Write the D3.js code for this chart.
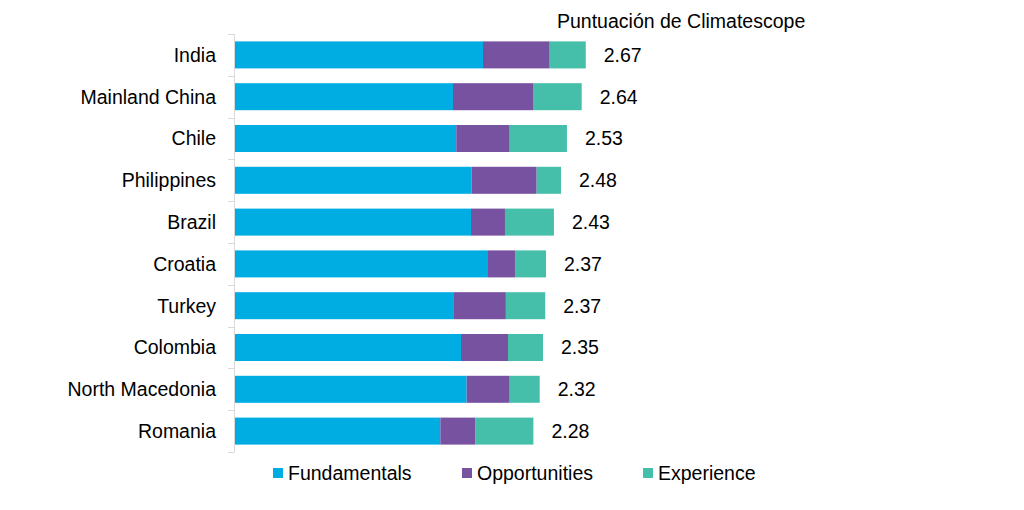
<!DOCTYPE html>
<html><head><meta charset="utf-8">
<script src="https://cdn.jsdelivr.net/npm/d3@7"></script>
<style>body{margin:0;background:#fff;} text{font-family:"Liberation Sans",Arial,sans-serif;fill:#000;}</style>
</head><body>
<svg id="c" width="1024" height="510"></svg>
<script>
const categories = ["India","Mainland China","Chile","Philippines","Brazil","Croatia","Turkey","Colombia","North Macedonia","Romania"];
const fundamentals = [1.892,1.664,1.689,1.806,1.801,1.930,1.666,1.725,1.768,1.568];
const opportunities = [0.507,0.608,0.406,0.494,0.258,0.205,0.400,0.357,0.327,0.264];
const experience = [0.274,0.370,0.435,0.185,0.372,0.236,0.299,0.266,0.228,0.443];
const totals = ["2.67","2.64","2.53","2.48","2.43","2.37","2.37","2.35","2.32","2.28"];
const seriesNames = ["Fundamentals","Opportunities","Experience"];
const colors = ["#00ADE3","#7752A1","#45BFAA"];
const title = "Puntuación de Climatescope";

const FS = "19.5px";
const svg = d3.select("#c");
const x = d3.scaleLinear().domain([0,1]).range([234, 234+131.6]);
const y = d3.scaleBand().domain(categories).range([34,452]).paddingInner(0.354).paddingOuter(0.177);

const stackData = categories.map((c,i)=>({cat:c, Fundamentals:fundamentals[i], Opportunities:opportunities[i], Experience:experience[i]}));
const stack = d3.stack().keys(seriesNames)(stackData);

stack.forEach((layer,k)=>{
  svg.append("g").selectAll("rect").data(layer).join("rect")
    .attr("x", d=>x(d[0]))
    .attr("width", d=>x(d[1])-x(d[0]))
    .attr("y", d=>y(d.data.cat))
    .attr("height", y.bandwidth())
    .attr("fill", colors[k]);
});

// axis line with boundary ticks
const ax = svg.append("g").attr("stroke","#d9d9d9").attr("stroke-width",1);
ax.append("line").attr("x1",234.5).attr("x2",234.5).attr("y1",34).attr("y2",452);
d3.range(categories.length+1).forEach(i=>{
  const yy = Math.round(34 + i*(418/categories.length))+0.5;
  ax.append("line").attr("x1",228).attr("x2",234.5).attr("y1",yy).attr("y2",yy);
});

// category labels
svg.append("g").selectAll("text").data(categories).join("text")
  .attr("x",216).attr("y",d=>y(d)+y.bandwidth()/2).attr("dy","0.35em")
  .attr("text-anchor","end").style("font-size",FS).text(d=>d);

// totals
svg.append("g").selectAll("text").data(stack[2]).join("text")
  .attr("x",d=>x(d[1])+18).attr("y",d=>y(d.data.cat)+y.bandwidth()/2).attr("dy","0.35em")
  .style("font-size",FS).text((d,i)=>totals[i]);

// title
svg.append("text").attr("x",557).attr("y",28).style("font-size",FS).text(title);

// legend
const legX = [273,462,643];
const lg = svg.append("g").selectAll("g").data(seriesNames).join("g")
  .attr("transform",(d,i)=>`translate(${legX[i]},473)`);
lg.append("rect").attr("x",0).attr("y",-5).attr("width",10).attr("height",10).attr("fill",(d,i)=>colors[i]);
lg.append("text").attr("x",15).attr("y",0).attr("dy","0.35em").style("font-size",FS).text(d=>d);
</script>
</body></html>
